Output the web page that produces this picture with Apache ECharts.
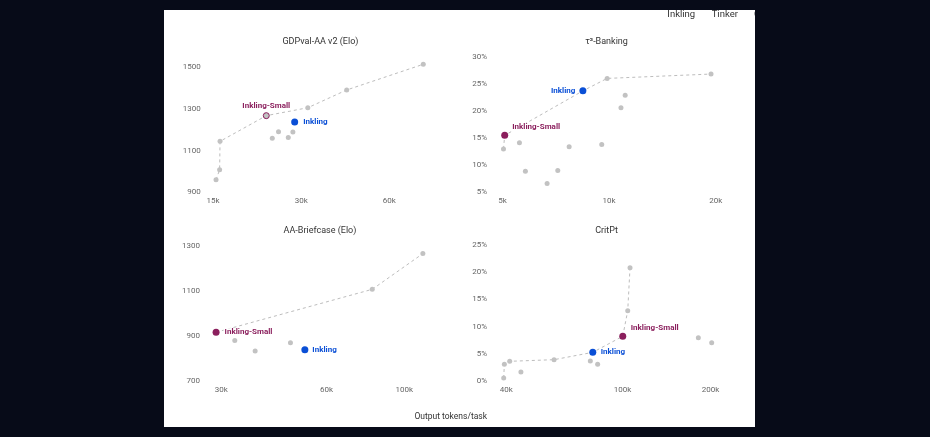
<!DOCTYPE html>
<html>
<head>
<meta charset="utf-8">
<script src="https://cdn.jsdelivr.net/npm/echarts@6/dist/echarts.min.js"></script>
<style>
  html, body { margin: 0; padding: 0; width: 930px; height: 437px; background: #070b18; overflow: hidden; }
  #card { position: absolute; left: 164px; top: 10px; width: 591px; height: 417px; background: #fff; overflow: hidden; }
  #charts { width: 591px; height: 417px; }
</style>
</head>
<body>
<div id="card"><div id="charts"></div></div>
<script>
// --- data (tokens per task, score) ---
const gdpTitle = 'GDPval-AA v2 (Elo)';
const gdpTokens = [15360, 15800, 15850, 23900, 25100, 27100, 28100, 31600, 42900, 78300];
const gdpScores = [960, 1008, 1144, 1159, 1190, 1163, 1189, 1305, 1390, 1513];
const gdpInkling = [28500, 1237];
const gdpSmall = [22800, 1267];
const gdpXTicks = [15000, 30000, 60000];

const bankTitle = 'τ³-Banking';
const bankTokens = [5030, 5580, 5800, 6680, 7160, 7710, 9530, 9870, 10800, 11100, 19400];
const bankScores = [13.0, 14.15, 8.9, 6.6, 9.0, 13.4, 13.8, 26.0, 20.6, 22.9, 26.8];
const bankInkling = [8430, 23.7];
const bankSmall = [5070, 15.5];
const bankXTicks = [5000, 10000, 20000];

const briefTitle = 'AA-Briefcase (Elo)';
const briefTokens = [32800, 37500, 47300, 81000, 113000];
const briefScores = [880, 834, 871, 1107, 1265];
const briefInkling = [52000, 840];
const briefSmall = [29000, 917];
const briefXTicks = [30000, 60000, 100000];

const critTitle = 'CritPt';
const critTokens = [39200, 39400, 41100, 44900, 58300, 77600, 82200, 104200, 106100, 181800, 202000];
const critScores = [0.55, 3.07, 3.62, 1.65, 3.92, 3.68, 3.07, 12.9, 20.8, 7.96, 7.04];
const critInkling = [79100, 5.27];
const critSmall = [100200, 8.22];
const critXTicks = [40000, 100000, 200000];

const legendNames = ['Inkling', 'Tinker', 'Claude'];

const BLUE = '#0a4fd6';
const PLUM = '#8b1f5d';
const GREY = '#c2c2c2';
const FONT = 'Roboto';

// panel layout inside the white card
const panels = [
  { title: gdpTitle, xs: gdpTokens, ys: gdpScores, ink: gdpInkling, small: gdpSmall, xTicks: gdpXTicks,
    grid: { left: 44.7, top: 57, width: 223.5, height: 125.3 }, xMin: 14500, xMax: 84000,
    yMin: 900, yMax: 1500, yStep: 200, pct: false, titleY: 31.5,
    inkLabel: { position: 'right', distance: 4 },
    smallLabel: { position: 'top', distance: 2 }, smallHollow: true },
  { title: bankTitle, xs: bankTokens, ys: bankScores, ink: bankInkling, small: bankSmall, xTicks: bankXTicks,
    grid: { left: 331, top: 46.7, width: 223, height: 135.6 }, xMin: 4760, xMax: 20300,
    yMin: 5, yMax: 30, yStep: 5, pct: true, titleY: 31.5,
    inkLabel: { position: 'left', distance: 3 },
    smallLabel: { position: 'right', distance: 3, offset: [0, -8] } },
  { title: briefTitle, xs: briefTokens, ys: briefScores, ink: briefInkling, small: briefSmall, xTicks: briefXTicks,
    grid: { left: 44, top: 235.7, width: 224, height: 135.6 }, xMin: 27500, xMax: 120000,
    yMin: 700, yMax: 1300, yStep: 200, pct: false, titleY: 220.5,
    inkLabel: { position: 'right', distance: 3 },
    smallLabel: { position: 'right', distance: 4 } },
  { title: critTitle, xs: critTokens, ys: critScores, ink: critInkling, small: critSmall, xTicks: critXTicks,
    grid: { left: 331, top: 235, width: 223, height: 136 }, xMin: 36600, xMax: 212300,
    yMin: 0, yMax: 25, yStep: 5, pct: true, titleY: 220.5,
    inkLabel: { position: 'right', distance: 3.5 },
    smallLabel: { position: 'right', distance: 3.5, offset: [0, -8.5] } }
];

// points that beat every cheaper model
function frontier(points) {
  const sorted = points.slice().sort((a, b) => a[0] - b[0]);
  const out = [];
  let best = -Infinity;
  sorted.forEach(p => {
    if (p[1] > best) { out.push(p); best = p[1]; }
  });
  return out;
}

var chartDom = document.getElementById('charts');
var myChart = echarts.init(chartDom);

const grids = [], xAxes = [], yAxes = [], series = [], graphics = [];

panels.forEach((p, i) => {
  grids.push(Object.assign({ containLabel: false, outerBoundsMode: 'none' }, p.grid));

  xAxes.push({
    type: 'log', logBase: 2, gridIndex: i, min: p.xMin, max: p.xMax,
    axisLine: { show: false }, axisTick: { show: false }, splitLine: { show: false },
    axisLabel: {
      customValues: p.xTicks, margin: 5, fontSize: 8, color: '#666', fontFamily: FONT,
      formatter: v => Math.round(v / 1000) + 'k'
    }
  });

  yAxes.push({
    type: 'value', gridIndex: i, min: p.yMin, max: p.yMax, interval: p.yStep,
    axisLine: { show: false }, axisTick: { show: false }, splitLine: { show: false },
    axisLabel: {
      margin: 8, fontSize: 8, color: '#666', fontFamily: FONT,
      formatter: v => p.pct ? v + '%' : String(v)
    }
  });

  const others = p.xs.map((x, k) => [x, p.ys[k]]);
  const all = others.concat([p.ink, p.small]);

  series.push({
    type: 'line', xAxisIndex: i, yAxisIndex: i, data: frontier(all),
    symbol: 'none', clip: false, silent: true, z: 1,
    lineStyle: { color: '#bdbdbd', width: 1, type: [3, 3] }
  });
  series.push({
    type: 'scatter', xAxisIndex: i, yAxisIndex: i, data: others,
    symbolSize: 5, clip: false, silent: true, z: 2,
    itemStyle: { color: GREY, opacity: 1 }
  });

  const labelBase = { show: true, fontSize: 8, fontWeight: 'bold', fontFamily: FONT,
    backgroundColor: '#fff', padding: [0, 1] };

  series.push({
    type: 'scatter', xAxisIndex: i, yAxisIndex: i, data: [p.ink],
    symbolSize: 7, clip: false, silent: true, z: 4,
    itemStyle: { color: BLUE, opacity: 1 },
    label: Object.assign({}, labelBase, p.inkLabel, { color: BLUE, formatter: 'Inkling' })
  });
  series.push({
    type: 'scatter', xAxisIndex: i, yAxisIndex: i, data: [p.small],
    symbolSize: p.smallHollow ? 6 : 7, clip: false, silent: true, z: 3,
    itemStyle: p.smallHollow
      ? { color: GREY, borderColor: PLUM, borderWidth: 1, opacity: 1 }
      : { color: PLUM, opacity: 1 },
    label: Object.assign({}, labelBase, p.smallLabel, { color: PLUM, formatter: 'Inkling-Small' })
  });

  graphics.push({
    type: 'text', x: p.grid.left + p.grid.width / 2, y: p.titleY,
    style: { text: p.title, fill: '#333', fontSize: 9, fontFamily: FONT,
      textAlign: 'center', textVerticalAlign: 'middle' }
  });
});

// shared x axis name
graphics.push({
  type: 'text', x: 286.7, y: 406.7,
  style: { text: 'Output tokens/task', fill: '#333', fontSize: 8.5, fontFamily: FONT,
    textAlign: 'center', textVerticalAlign: 'middle' }
});

// top-right model switcher (cut off by the card edge)
const legendX = [503.3, 547.7, 590];
legendNames.forEach((name, k) => {
  graphics.push({
    type: 'text', x: legendX[k], y: 5,
    style: { text: name, fill: '#333', fontSize: 9.5, fontFamily: FONT,
      textAlign: 'left', textVerticalAlign: 'middle' }
  });
});

let option = {
  animation: false,
  backgroundColor: '#fff',
  grid: grids,
  xAxis: xAxes,
  yAxis: yAxes,
  series: series,
  graphic: graphics
};
option && myChart.setOption(option);
</script>
</body>
</html>
